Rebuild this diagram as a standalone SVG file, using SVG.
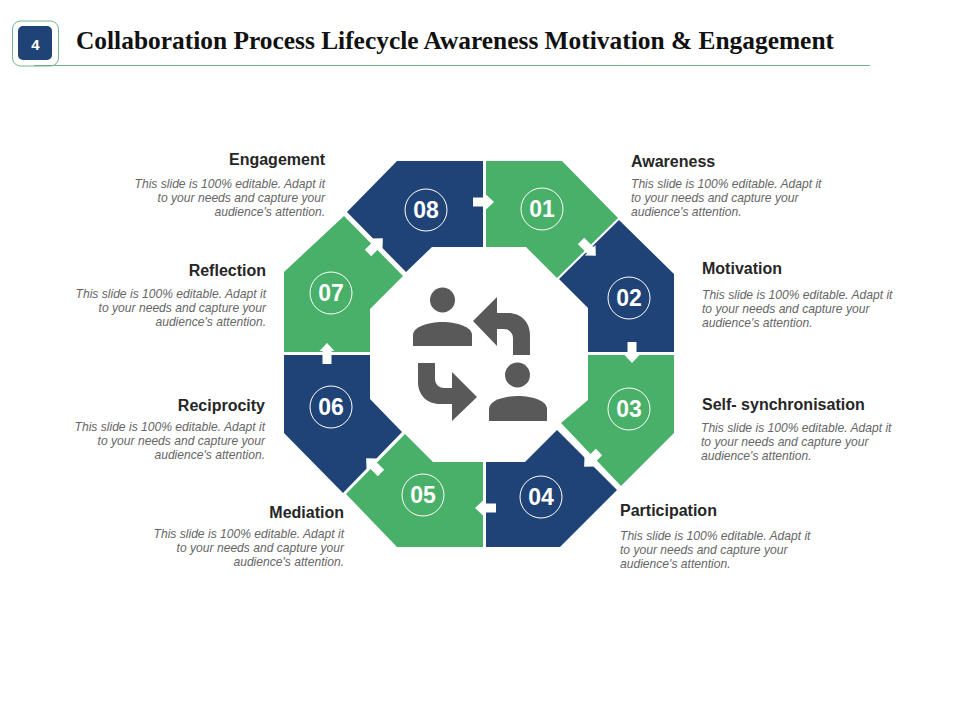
<svg xmlns="http://www.w3.org/2000/svg" width="960" height="720" viewBox="0 0 960 720">
<style>
.navy{fill:#1f4377}
.green{fill:#48b068}
.ring{fill:none;stroke:#fff;stroke-width:1}
.num{font:bold 23px "Liberation Sans",Arial,sans-serif;fill:#fff;text-anchor:middle}
.h{font:bold 16px "Liberation Sans",Arial,sans-serif;fill:#262626}
.d{font:italic 12.100px "Liberation Sans",Arial,sans-serif;fill:#666}
.r{text-anchor:end}
.icon{fill:#595959}
</style>
<defs>
<path id="arrow" d="M0,-4.5H13V-7.5L21,0L13,7.5V4.5H0Z" fill="#fff"/>
</defs>
<rect width="960" height="720" fill="#fff"/>
<g id="header">
<rect x="12.500" y="21" width="46" height="45" rx="8" fill="#fff" stroke="#74b68c" stroke-width="1"/>
<rect x="18" y="26" width="34" height="34" rx="5" fill="#1f4377"/>
<text x="35.500" y="50" font-family="Liberation Sans, Arial, sans-serif" font-weight="bold" font-size="15" fill="#fff" text-anchor="middle">4</text>
<line x1="34" y1="65.500" x2="870" y2="65.500" stroke="#6fb387" stroke-width="1"/>
<text x="76" y="49" font-family="Liberation Serif, Times New Roman, serif" font-weight="bold" font-size="25" fill="#111" textLength="758" lengthAdjust="spacingAndGlyphs">Collaboration Process Lifecycle Awareness Motivation &amp; Engagement</text>
</g>
<g id="node-01">
<polygon class="green" points="486,161 562,161 618,218 557,278 526,247 486,247"/>
<circle class="ring" cx="542" cy="209" r="21"/>
<text class="num" x="542" y="217">01</text>
<text class="h" x="631" y="167">Awareness</text>
<text class="d" x="631" y="188">This slide is 100% editable. Adapt it</text>
<text class="d" x="631" y="202">to your needs and capture your</text>
<text class="d" x="631" y="216">audience's attention.</text>
</g>
<g id="node-02">
<polygon class="navy" points="619,220 674,274 674,352 588,352 588,308 559,279"/>
<circle class="ring" cx="629" cy="298" r="21"/>
<text class="num" x="629" y="306">02</text>
<text class="h" x="702" y="274">Motivation</text>
<text class="d" x="702" y="299">This slide is 100% editable. Adapt it</text>
<text class="d" x="702" y="313">to your needs and capture your</text>
<text class="d" x="702" y="327">audience's attention.</text>
</g>
<g id="node-03">
<polygon class="green" points="588,355 674,355 674,433 621,486 561,423 588,400"/>
<circle class="ring" cx="629" cy="409" r="21"/>
<text class="num" x="629" y="417">03</text>
<text class="h" x="702" y="410">Self- synchronisation</text>
<text class="d" x="701" y="432">This slide is 100% editable. Adapt it</text>
<text class="d" x="701" y="446">to your needs and capture your</text>
<text class="d" x="701" y="460">audience's attention.</text>
</g>
<g id="node-04">
<polygon class="navy" points="486,462 525,462 557,430 617,490 560,547 486,547"/>
<circle class="ring" cx="541" cy="497" r="21"/>
<text class="num" x="541" y="505">04</text>
<text class="h" x="620" y="516">Participation</text>
<text class="d" x="620" y="540">This slide is 100% editable. Adapt it</text>
<text class="d" x="620" y="554">to your needs and capture your</text>
<text class="d" x="620" y="568">audience's attention.</text>
</g>
<g id="node-05">
<polygon class="green" points="483,462 433,462 405,434 346,494 397,547 483,547"/>
<circle class="ring" cx="423" cy="495" r="21"/>
<text class="num" x="423" y="503">05</text>
<text class="h r" x="344" y="518">Mediation</text>
<text class="d r" x="344" y="538">This slide is 100% editable. Adapt it</text>
<text class="d r" x="344" y="552">to your needs and capture your</text>
<text class="d r" x="344" y="566">audience's attention.</text>
</g>
<g id="node-06">
<polygon class="navy" points="284,355 370,355 370,399 402,432 343,493 284,433"/>
<circle class="ring" cx="331" cy="407" r="21"/>
<text class="num" x="331" y="415">06</text>
<text class="h r" x="265" y="411">Reciprocity</text>
<text class="d r" x="265" y="431">This slide is 100% editable. Adapt it</text>
<text class="d r" x="265" y="445">to your needs and capture your</text>
<text class="d r" x="265" y="459">audience's attention.</text>
</g>
<g id="node-07">
<polygon class="green" points="284,352 370,352 370,309 403,276 344,216 284,272"/>
<circle class="ring" cx="331" cy="293" r="21"/>
<text class="num" x="331" y="301">07</text>
<text class="h r" x="266" y="276">Reflection</text>
<text class="d r" x="266" y="298">This slide is 100% editable. Adapt it</text>
<text class="d r" x="266" y="312">to your needs and capture your</text>
<text class="d r" x="266" y="326">audience's attention.</text>
</g>
<g id="node-08">
<polygon class="navy" points="397,161 483,161 483,247 432,247 406,272 347,212"/>
<circle class="ring" cx="426" cy="210" r="21"/>
<text class="num" x="426" y="218">08</text>
<text class="h r" x="325" y="165">Engagement</text>
<text class="d r" x="325" y="188">This slide is 100% editable. Adapt it</text>
<text class="d r" x="325" y="202">to your needs and capture your</text>
<text class="d r" x="325" y="216">audience's attention.</text>
</g>
<g id="connectors">
<use href="#arrow" transform="translate(473,202)"/>
<use href="#arrow" transform="translate(581,241) rotate(45)"/>
<use href="#arrow" transform="translate(632,342) rotate(90)"/>
<use href="#arrow" transform="translate(599,452) rotate(135)"/>
<use href="#arrow" transform="translate(496,508) rotate(180)"/>
<use href="#arrow" transform="translate(381,473) rotate(225)"/>
<use href="#arrow" transform="translate(327,364) rotate(270)"/>
<use href="#arrow" transform="translate(368,253) rotate(315)"/>
</g>
<g id="center-icon" class="icon">
<circle cx="442.500" cy="300" r="12.500"/>
<path d="M413,346V335C413,327 428,322 442.500,322C457,322 472,327 472,335V346Z"/>
<path d="M473,321L497,297V313H508C521,313 530,322 530,335V355H513V338C513,333 509,329 504,329H497V346Z"/>
<path d="M477,397L452,372V388H444C439,388 435,384 435,379V363H418V382C418,395 427,404 440,404H452V421Z"/>
<circle cx="517.500" cy="375" r="12.500"/>
<path d="M489,421V409C489,401 503,396 518,396C533,396 547,401 547,409V421Z"/>
</g>
</svg>
